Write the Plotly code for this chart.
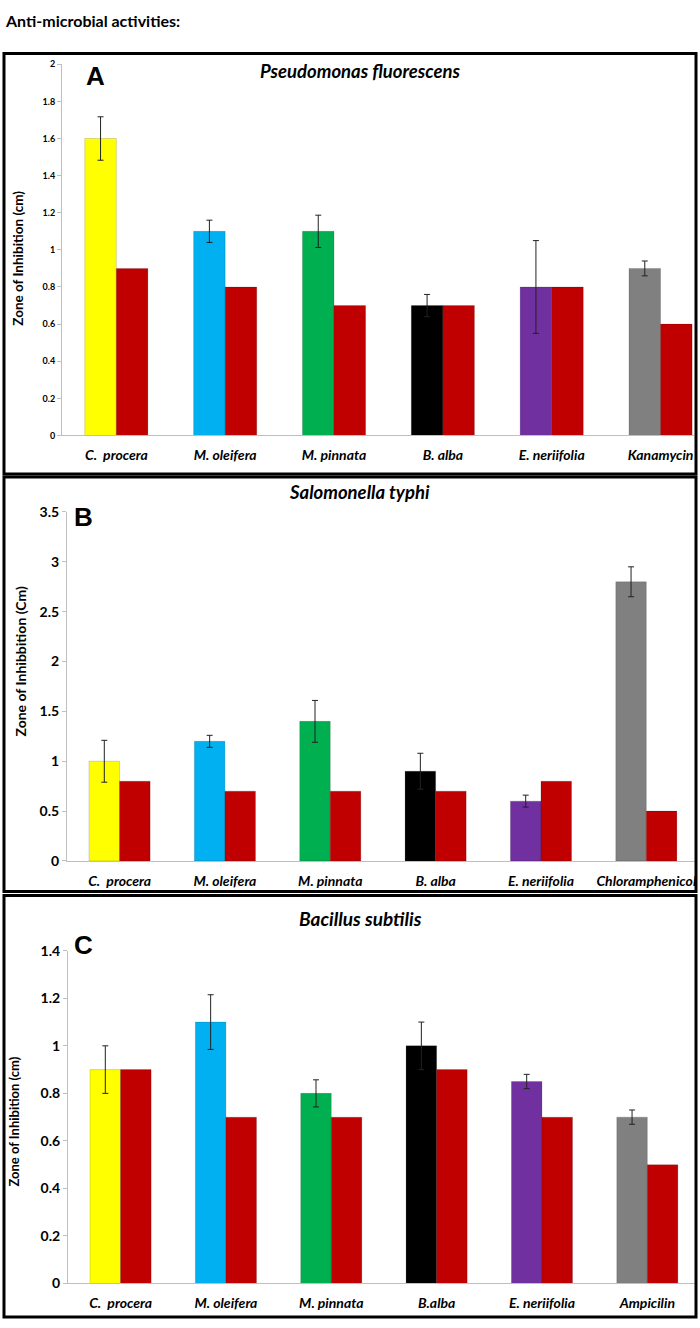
import plotly.graph_objects as go

# ---------------- data ----------------
cats_a = ["C.  procera", "M. oleifera", "M. pinnata", "B. alba", "E. neriifolia", "Kanamycin"]
extract_a = [1.6, 1.1, 1.1, 0.7, 0.8, 0.9]
err_a = [0.117, 0.06, 0.087, 0.06, 0.25, 0.04]
control_a = [0.9, 0.8, 0.7, 0.7, 0.8, 0.6]

cats_b = ["C.  procera", "M. oleifera", "M. pinnata", "B. alba", "E. neriifolia", "Chloramphenicol"]
extract_b = [1.0, 1.2, 1.4, 0.9, 0.6, 2.8]
err_b = [0.21, 0.06, 0.21, 0.18, 0.06, 0.15]
control_b = [0.8, 0.7, 0.7, 0.7, 0.8, 0.5]

cats_c = ["C.  procera", "M. oleifera", "M. pinnata", "B.alba", "E. neriifolia", "Ampicilin"]
extract_c = [0.9, 1.1, 0.8, 1.0, 0.85, 0.7]
err_c = [0.1, 0.115, 0.057, 0.1, 0.03, 0.03]
control_c = [0.9, 0.7, 0.7, 0.9, 0.7, 0.5]

bar_colors = ["#FFFF00", "#00B0F0", "#00B050", "#000000", "#7030A0", "#808080"]
control_color = "#C00000"

W, H = 700, 1328
FONT = "Lato"


def px_x(p):
    return p / W


def px_y(p):
    return 1 - p / H


fig = go.Figure()

panels = [
    # cats, ext, err, ctrl, xaxis, yaxis, x0px, x1px, ytop, ybot, ymax, dtick, yfont, cat_width_px
    (cats_a, extract_a, err_a, control_a, "x", "y", 62, 695, 56, 432, 2.0, 0.2, 9, 109.0),
    (cats_b, extract_b, err_b, control_b, "x2", "y2", 67, 697, 509.5, 863, 3.5, 0.5, 14, 105.5),
    (cats_c, extract_c, err_c, control_c, "x3", "y3", 68, 697, 954, 1291, 1.4, 0.2, 14, 105.5),
]

for i, (cats, ext, err, ctrl, xa, ya, x0, x1, yt, yb, ymax, dtick, yfs, cw) in enumerate(panels):
    idx = list(range(len(cats)))
    fig.add_trace(go.Bar(
        x=idx, y=ext, xaxis=xa, yaxis=ya,
        marker=dict(color=bar_colors, line=dict(color="rgba(0,0,0,0.25)", width=0.6)),
        error_y=dict(type="data", array=err, visible=True, color="#222222", thickness=1, width=3),
        showlegend=False, hoverinfo="y",
    ))
    fig.add_trace(go.Bar(
        x=idx, y=ctrl, xaxis=xa, yaxis=ya,
        marker=dict(color=control_color, line=dict(color="rgba(0,0,0,0.25)", width=0.6)),
        showlegend=False, hoverinfo="y",
    ))
    n = "" if i == 0 else str(i + 1)
    span = (x1 - x0) / cw
    fig.layout["xaxis" + n] = dict(
        domain=[px_x(x0), px_x(x1)], anchor="y" + n,
        range=[-0.5, -0.5 + span],
        tickmode="array", tickvals=idx,
        ticktext=["<b><i>%s</i></b>" % c for c in cats],
        ticks="", showline=True, linecolor="#BFBFBF", linewidth=1,
        tickfont=dict(family=FONT, size=14, color="#000000"),
        ticklabelstandoff=7, showgrid=False, zeroline=False, fixedrange=True,
    )
    fig.layout["yaxis" + n] = dict(
        domain=[px_y(yb), px_y(yt)], anchor="x" + n,
        range=[0, ymax], dtick=dtick, tick0=0,
        ticks="outside", ticklen=4, tickcolor="#BFBFBF",
        showline=True, linecolor="#BFBFBF", linewidth=1,
        tickfont=dict(family=FONT, size=yfs, color="#000000", weight="bold"),
        showgrid=False, zeroline=False, fixedrange=True,
    )

annotations = [
    dict(text="<b>Anti-microbial activities:</b>", x=px_x(3), y=px_y(12), xanchor="left", yanchor="middle",
         font=dict(family=FONT, size=16, color="#000000")),
    dict(text="<b><i>Pseudomonas fluorescens</i></b>", x=px_x(361), y=px_y(63), xanchor="center", yanchor="middle",
         font=dict(family=FONT, size=18.5, color="#000000")),
    dict(text="<b>A</b>", x=px_x(96), y=px_y(68), xanchor="center", yanchor="middle",
         font=dict(family="Liberation Sans", size=26, color="#000000")),
    dict(text="<b><i>Salomonella typhi</i></b>", x=px_x(360), y=px_y(489), xanchor="center", yanchor="middle",
         font=dict(family=FONT, size=18.5, color="#000000")),
    dict(text="<b>B</b>", x=px_x(84), y=px_y(515), xanchor="center", yanchor="middle",
         font=dict(family="Liberation Sans", size=26, color="#000000")),
    dict(text="<b><i>Bacillus subtilis</i></b>", x=px_x(361), y=px_y(921), xanchor="center", yanchor="middle",
         font=dict(family=FONT, size=19, color="#000000")),
    dict(text="<b>C</b>", x=px_x(84), y=px_y(948), xanchor="center", yanchor="middle",
         font=dict(family="Liberation Sans", size=26, color="#000000")),
    dict(text="<b>Zone of Inhibition (cm)</b>", x=px_x(18), y=px_y(252), textangle=-90, xanchor="center",
         yanchor="middle", font=dict(family=FONT, size=13.5, color="#000000")),
    dict(text="<b>Zone of Inhibbition (Cm)</b>", x=px_x(21), y=px_y(661), textangle=-90, xanchor="center",
         yanchor="middle", font=dict(family=FONT, size=14, color="#000000")),
    dict(text="<b>Zone of Inhibition (cm)</b>", x=px_x(14), y=px_y(1127), textangle=-90, xanchor="center",
         yanchor="middle", font=dict(family=FONT, size=13, color="#000000")),
]
for a in annotations:
    a.update(xref="paper", yref="paper", showarrow=False)

boxes = [(4, 45, 697, 471), (4, 474, 697, 894), (4, 898, 697, 1325)]
shapes = [dict(type="rect", xref="paper", yref="paper", x0=px_x(a), y0=px_y(b), x1=px_x(c), y1=px_y(d),
               line=dict(color="#000000", width=3), fillcolor="rgba(0,0,0,0)") for a, b, c, d in boxes]

fig.update_layout(
    width=W, height=H, margin=dict(l=0, r=0, t=0, b=0),
    paper_bgcolor="#FFFFFF", plot_bgcolor="#FFFFFF",
    barmode="group", bargap=0.42, bargroupgap=0,
    annotations=annotations, shapes=shapes,
    font=dict(family=FONT),
)

fig.write_html("out.html", config={"displayModeBar": False},
               post_script="document.body.style.margin='0';document.body.style.overflow='hidden';")
